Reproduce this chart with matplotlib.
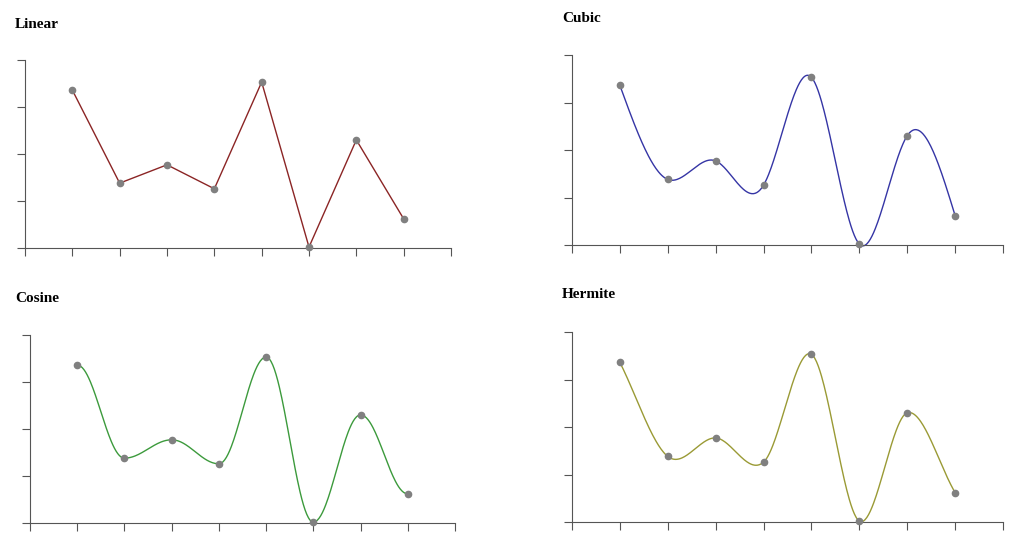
import numpy as np
import matplotlib.pyplot as plt

x_vals = np.arange(1, 9)
y_vals = np.array([3.36, 1.38, 1.77, 1.26, 3.53, 0.02, 2.30, 0.62])

titles = ["Linear", "Cubic", "Cosine", "Hermite"]
colors = ["#8b2525", "#3535a5", "#3c9a3c", "#9a9a35"]


def natural_cubic(x, y, xs):
    n = len(x)
    h = np.diff(x)
    A = np.zeros((n, n))
    b = np.zeros(n)
    A[0, 0] = A[-1, -1] = 1
    for i in range(1, n - 1):
        A[i, i - 1] = h[i - 1]
        A[i, i] = 2 * (h[i - 1] + h[i])
        A[i, i + 1] = h[i]
        b[i] = 6 * ((y[i + 1] - y[i]) / h[i] - (y[i] - y[i - 1]) / h[i - 1])
    m = np.linalg.solve(A, b)
    out = []
    for t in xs:
        i = min(np.searchsorted(x, t, side="right") - 1, n - 2)
        dx = t - x[i]
        hi = h[i]
        a = (m[i + 1] - m[i]) / (6 * hi)
        c = (y[i + 1] - y[i]) / hi - hi * (2 * m[i] + m[i + 1]) / 6
        out.append(y[i] + c * dx + m[i] / 2 * dx ** 2 + a * dx ** 3)
    return np.array(out)


def cosine(x, y, xs):
    out = []
    for t in xs:
        i = min(np.searchsorted(x, t, side="right") - 1, len(x) - 2)
        mu = (t - x[i]) / (x[i + 1] - x[i])
        mu2 = (1 - np.cos(mu * np.pi)) / 2
        out.append(y[i] * (1 - mu2) + y[i + 1] * mu2)
    return np.array(out)


def hermite(x, y, xs):
    n = len(x)
    tang = np.zeros(n)
    tang[1:-1] = (y[2:] - y[:-2]) / 2
    tang[0] = y[1] - y[0]
    tang[-1] = y[-1] - y[-2]
    out = []
    for t in xs:
        i = min(np.searchsorted(x, t, side="right") - 1, n - 2)
        s = t - x[i]
        h00 = 2 * s**3 - 3 * s**2 + 1
        h10 = s**3 - 2 * s**2 + s
        h01 = -2 * s**3 + 3 * s**2
        h11 = s**3 - s**2
        out.append(h00 * y[i] + h10 * tang[i] + h01 * y[i + 1] + h11 * tang[i + 1])
    return np.array(out)


fig = plt.figure(figsize=(10.24, 5.48), dpi=100)
W, H = 1024, 548
boxes = [(25, 60, 451, 248), (572, 55, 1003, 245),
         (30, 335, 455, 523), (572, 332, 1003, 522)]
title_pos = [(15, 25), (562, 18), (15, 298), (562, 295)]

xs = np.linspace(1, 8, 400)
curves = [None, natural_cubic, cosine, hermite]

for k in range(4):
    x0, y0, x1, y1 = boxes[k]
    ax = fig.add_axes([x0 / W, 1 - y1 / H, (x1 - x0) / W, (y1 - y0) / H])
    if curves[k] is None:
        ax.plot(x_vals, y_vals, color=colors[k], lw=1)
    else:
        ax.plot(xs, curves[k](x_vals, y_vals, xs), color=colors[k], lw=1)
    ax.plot(x_vals, y_vals, "o", color="#808080", ms=4.5, zorder=3)
    ax.set_xlim(0, 9)
    ax.set_ylim(0, 4)
    ax.set_xticks(np.arange(0, 10))
    ax.set_yticks(np.arange(0, 5))
    ax.set_xticklabels([])
    ax.set_yticklabels([])
    ax.tick_params(color="#555555", length=6, width=0.8)
    for s in ["top", "right"]:
        ax.spines[s].set_visible(False)
    for s in ["left", "bottom"]:
        ax.spines[s].set_color("#555555")
        ax.spines[s].set_linewidth(0.8)
    for line in ax.get_lines():
        line.set_clip_on(False)
    tx, ty = title_pos[k]
    fig.text(tx / W, 1 - ty / H, titles[k], fontsize=11, fontweight="bold",
             family="Liberation Serif", va="center", ha="left")

fig.savefig("out.png", dpi=100)
